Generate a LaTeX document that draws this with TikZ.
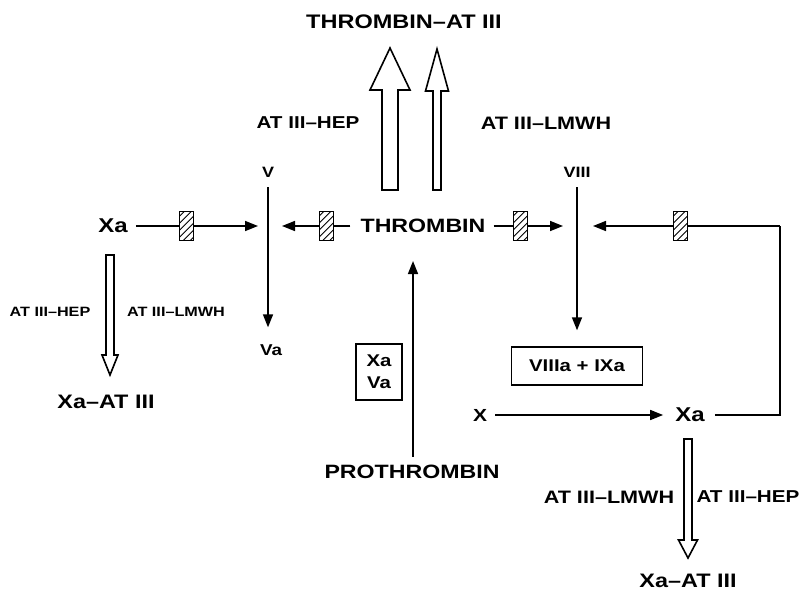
\documentclass[tikz,border=0pt]{standalone}
\usepackage{fontspec}
\setmainfont{Liberation Sans}
\newfontfamily\wlbl[FakeStretch=1.2]{Liberation Sans}
\usetikzlibrary{arrows.meta}
\newcommand{\hollowarr}[6]{%
  \draw[hollow] ({#1-#5},#2) -- ({#1-#5},#3) -- ({#1-#6},#3) -- (#1,#4)
    -- ({#1+#6},#3) -- ({#1+#5},#3) -- ({#1+#5},#2) -- cycle;}
\newcommand{\fs}[1]{\wlbl\bfseries\fontsize{#1}{#1}\selectfont}
\tikzset{
  lbl/.style={inner sep=0pt, align=center},
  conn/.style={line width=1.6pt},
  arr/.style={conn, -{Triangle[length=13pt,width=10pt]}},
  hollow/.style={line width=1.6pt, line join=miter, fill=white},
  hatch/.style={draw, line width=1.2pt, fill=white, minimum width=14pt, minimum height=29pt, inner sep=0pt,
     path picture={\foreach \i in {-24,-17,...,24}
        \draw[-, line width=0.9pt, shorten <=0pt, shorten >=0pt]
          ([shift={({\i-20},20)}]path picture bounding box.center)
          -- ([shift={({\i+20},-20)}]path picture bounding box.center);}},
  cbox/.style={draw, line width=1.4pt, inner sep=4pt, align=center},
}
\begin{document}
\begin{tikzpicture}[x=1pt,y=-1pt]
\useasboundingbox (0,0) rectangle (799,592);
% texts
\node[lbl, font=\fs{19.6}] (title) at (404,22) {THROMBIN–AT III};
\node[lbl, font=\fs{17.2}] (hepT) at (308,123) {AT III–HEP};
\node[lbl, font=\fs{18}] (lmwhT) at (546,123) {AT III–LMWH};
\node[lbl, font=\fs{15}] (V) at (268,172) {V};
\node[lbl, font=\fs{15}] (VIII) at (577,172) {VIII};
\node[lbl, font=\fs{20}] (XaL) at (113,226) {Xa};
\node[lbl, font=\fs{19.3}] (thr) at (423,226) {THROMBIN};
\node[lbl, font=\fs{15.7}] (Va) at (271,350) {Va};
\node[cbox, font=\wlbl\bfseries\fontsize{17}{22}\selectfont, minimum width=46pt, minimum height=56pt, inner sep=2pt] (boxXV) at (379,372) {Xa\\Va};
\node[cbox, font=\fs{17}, minimum width=131pt, minimum height=38pt] (box8) at (577,366) {VIIIa + IXa};
\node[lbl, font=\fs{17.5}] (X) at (480,415) {X};
\node[lbl, font=\fs{20}] (XaR) at (690,415) {Xa};
\node[lbl, font=\fs{19.3}] (proth) at (412,472) {PROTHROMBIN};
\node[lbl, font=\fs{13.5}] (hepL) at (50,312) {AT III–HEP};
\node[lbl, font=\fs{13.5}] (lmwhL) at (176,312) {AT III–LMWH};
\node[lbl, font=\fs{19.5}] (XaATL) at (106,402) {Xa–AT III};
\node[lbl, font=\fs{18}] (lmwhR) at (609,497) {AT III–LMWH};
\node[lbl, font=\fs{17.2}] (hepR) at (748,497) {AT III–HEP};
\node[lbl, font=\fs{19.5}] (XaATR) at (688,581) {Xa–AT III};
% junction points on the vertical lines
\coordinate (vL) at (V.south |- XaL);
\coordinate (vR) at (VIII.south |- thr);
\coordinate (corner) at (780,226);
% hollow arrows
\hollowarr{390}{190}{90}{48}{8}{20}
\hollowarr{437}{190}{91}{49}{4}{11.5}
\hollowarr{110}{255}{355}{375}{4}{8}
\hollowarr{688}{439}{540}{558}{4}{9.5}
% vertical arrows
\draw[arr, shorten <=10pt, shorten >=17pt] (V.south) -- (V.south |- Va.north);
\draw[arr, shorten <=10pt, shorten >=16pt] (VIII.south) -- (box8.north);
\draw[arr, shorten <=8pt, shorten >=28pt] ([xshift=1pt]proth.north) -- ([xshift=1pt]proth.north |- thr.south);
% horizontal arrows with hatched boxes
\draw[arr, shorten <=8pt, shorten >=10pt] (XaL.east) -- node[hatch, pos=0.42] {} (vL);
\draw[arr, shorten <=10pt, shorten >=14pt] (thr.west) -- node[hatch, pos=0.37] {} (vL);
\draw[arr, shorten <=8pt, shorten >=14pt] (thr.east) -- node[hatch, pos=0.38] {} (vR);
\draw[conn] (XaR.east) ++(10pt,0) -| (corner);
\draw[arr, shorten >=16pt] (corner) -- node[hatch, pos=0.49] {} (vR);
\draw[arr, shorten <=8pt, shorten >=12pt] (X.east) -- (XaR.west);
\end{tikzpicture}
\end{document}
